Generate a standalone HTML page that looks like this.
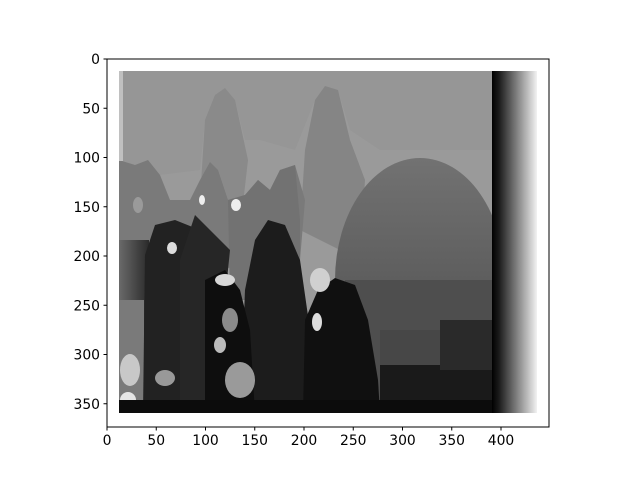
<!DOCTYPE html>
<html><head><meta charset="utf-8"><style>
body{margin:0;background:#fff}
svg text{font-family:"DejaVu Sans","Liberation Sans",sans-serif;font-size:13.9px;fill:#000}
</style></head><body>
<svg width="640" height="480" viewBox="0 0 640 480">
<defs>
<linearGradient id="strip" x1="0" x2="1" y1="0" y2="0"><stop offset="0" stop-color="#000"/><stop offset="0.15" stop-color="#1a1a1a"/><stop offset="1" stop-color="#f2f2f2"/></linearGradient>
<linearGradient id="dome" x1="0" x2="0" y1="0" y2="1"><stop offset="0" stop-color="#727272"/><stop offset="1" stop-color="#4a4a4a"/></linearGradient>
<linearGradient id="leftfade" x1="0" x2="1"><stop offset="0" stop-color="#6a6a6a"/><stop offset="1" stop-color="#2a2a2a"/></linearGradient>
</defs>
<g id="image">
<rect x="119" y="71" width="373" height="342" fill="#9a9a9a"/>
<path d="M119 71 L119 180 L200 170 L205 120 L215 95 L225 88 L235 100 L245 140 L260 140 L295 150 L315 100 L325 86 L338 90 L350 130 L380 150 L492 150 L492 71 Z" fill="#969696"/>
<path d="M200 200 L205 120 L215 95 L225 88 L235 100 L248 160 L240 230 Z" fill="#8a8a8a"/>
<path d="M300 230 L305 150 L315 100 L325 86 L338 90 L350 140 L365 180 L360 260 Z" fill="#858585"/>
<path d="M119 160 L135 165 L148 160 L160 175 L170 200 L190 200 L200 180 L210 162 L218 170 L228 200 L245 195 L258 180 L270 190 L280 170 L295 165 L305 200 L300 260 L119 280 Z" fill="#7a7a7a"/>
<path d="M228 200 L245 195 L258 180 L270 190 L280 170 L295 165 L300 220 L300 300 L230 300 Z" fill="#727272"/>
<ellipse cx="420" cy="280" rx="85" ry="122" fill="url(#dome)"/>
<rect x="345" y="280" width="147" height="133" fill="#4e4e4e"/>
<rect x="380" y="330" width="112" height="40" fill="#474747"/>
<rect x="119" y="240" width="30" height="173" fill="url(#leftfade)"/>
<rect x="119" y="300" width="25" height="113" fill="#7a7a7a"/>
<ellipse cx="130" cy="370" rx="10" ry="16" fill="#c8c8c8"/>
<ellipse cx="128" cy="400" rx="8" ry="8" fill="#e6e6e6"/>
<path d="M143 413 L145 255 L155 225 L175 220 L195 228 L205 250 L210 300 L210 413 Z" fill="#222"/>
<path d="M180 413 L180 260 L195 215 L210 230 L230 250 L225 300 L225 413 Z" fill="#262626"/>
<path d="M240 413 L245 290 L255 240 L268 220 L285 225 L300 260 L310 330 L310 413 Z" fill="#1c1c1c"/>
<path d="M303 413 L305 320 L318 290 L335 278 L355 285 L368 320 L378 380 L380 413 Z" fill="#101010"/>
<path d="M205 413 L205 280 L225 270 L240 290 L250 330 L255 413 Z" fill="#0e0e0e"/>
<rect x="380" y="365" width="112" height="48" fill="#1a1a1a"/>
<rect x="440" y="320" width="52" height="50" fill="#2a2a2a"/>
<rect x="119" y="400" width="373" height="13" fill="#0c0c0c"/>
<ellipse cx="240" cy="380" rx="15" ry="18" fill="#9a9a9a"/>
<ellipse cx="230" cy="320" rx="8" ry="12" fill="#8a8a8a"/>
<ellipse cx="220" cy="345" rx="6" ry="8" fill="#bbb"/>
<ellipse cx="165" cy="378" rx="10" ry="8" fill="#999"/>
<ellipse cx="320" cy="280" rx="10" ry="12" fill="#d0d0d0"/>
<ellipse cx="317" cy="322" rx="5" ry="9" fill="#ddd"/>
<ellipse cx="225" cy="280" rx="10" ry="6" fill="#d8d8d8"/>
<ellipse cx="172" cy="248" rx="5" ry="6" fill="#ddd"/>
<ellipse cx="236" cy="205" rx="5" ry="6" fill="#eee"/>
<ellipse cx="202" cy="200" rx="3" ry="5" fill="#eee"/>
<ellipse cx="138" cy="205" rx="5" ry="8" fill="#9a9a9a"/>
<rect x="119" y="71" width="4" height="90" fill="#c0c0c0"/>
<rect x="492" y="71" width="45" height="342" fill="url(#strip)"/>
</g>
<rect x="107" y="59" width="442" height="368" fill="none" stroke="#000" stroke-width="1"/>
<g id="xt"></g>
<g id="yt"></g>
</svg>
<script>
const xTicks=[0,50,100,150,200,250,300,350,400];
const yTicks=[0,50,100,150,200,250,300,350];
const sx=v=>107+v*0.985, sy=v=>59+v*0.985;
const NS='http://www.w3.org/2000/svg';
const xg=document.getElementById('xt'), yg=document.getElementById('yt');
xTicks.forEach(t=>{
  const l=document.createElementNS(NS,'line');
  l.setAttribute('x1',sx(t));l.setAttribute('x2',sx(t));l.setAttribute('y1',427);l.setAttribute('y2',430.5);l.setAttribute('stroke','#000');
  
  
  xg.appendChild(l);
  const tx=document.createElementNS(NS,'text');
  tx.setAttribute('x',sx(t));tx.setAttribute('y',445);tx.setAttribute('text-anchor','middle');tx.textContent=t;
  
  
  xg.appendChild(tx);
});
yTicks.forEach(t=>{
  const l=document.createElementNS(NS,'line');
  l.setAttribute('x1',103.5);l.setAttribute('x2',107);l.setAttribute('y1',sy(t));l.setAttribute('y2',sy(t));l.setAttribute('stroke','#000');
  
  
  yg.appendChild(l);
  const tx=document.createElementNS(NS,'text');
  tx.setAttribute('x',100);tx.setAttribute('y',sy(t)+5);tx.setAttribute('text-anchor','end');tx.textContent=t;
  
  
  yg.appendChild(tx);
});
</script>
</body></html>
